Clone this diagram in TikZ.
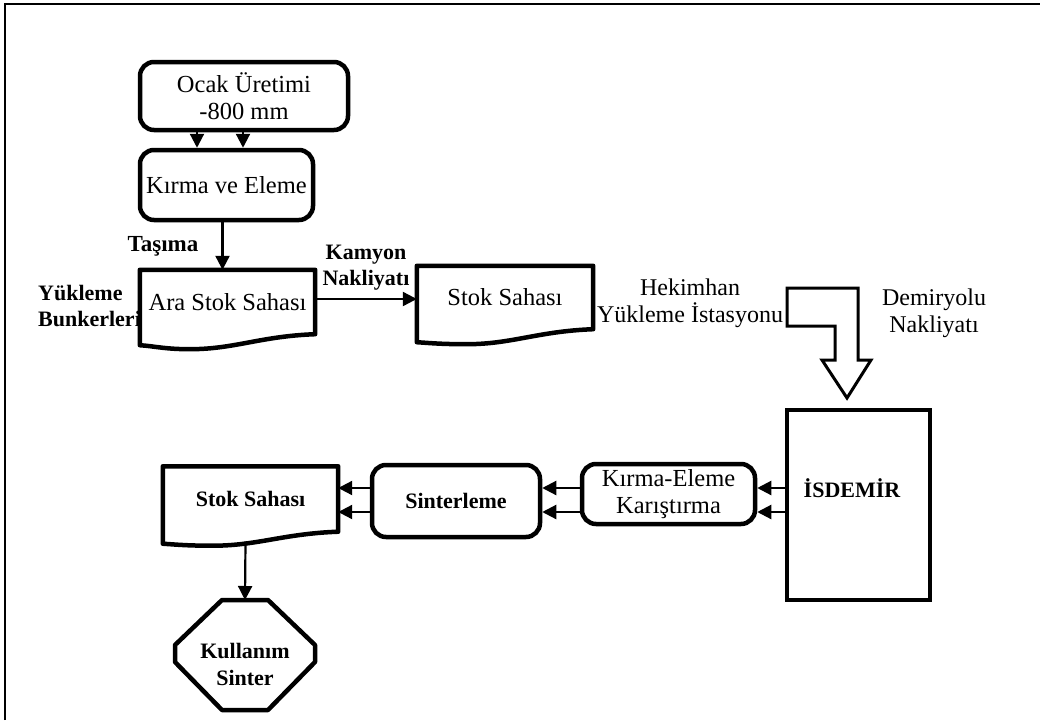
\documentclass[tikz,border=0pt]{standalone}
\usepackage{fontspec}
\setmainfont{Liberation Serif}
\usetikzlibrary{arrows.meta,calc}
\begin{document}
\begin{tikzpicture}[x=1pt,y=-1pt,
  every node/.style={font=\fontsize{24.5}{27}\selectfont, inner sep=0pt, align=center},
  boxline/.style={line width=4.5pt, line join=round},
  rbox/.style={draw, line width=4.5pt, rounded corners=14pt},
  conn/.style={line width=2.2pt, -{Triangle[length=14pt,width=14pt]}},
  lbl/.style={font=\fontsize{24}{27}\selectfont},
  blbl/.style={font=\fontsize{22}{26}\selectfont\bfseries},
  bigarrow/.style={line width=3pt, line join=miter}]
\useasboundingbox (0,0) rectangle (1040,720);
% partial frame
\draw[line width=2.5pt] (5,720) -- (5,4) -- (1040,4);

% nodes
\node[rbox, minimum width=208pt, minimum height=68pt] (ocak) at (244,96) {Ocak Üretimi\\-800 mm};
\node[rbox, minimum width=173pt, minimum height=70pt] (kirma) at (226.5,185) {Kırma ve Eleme};
\node[minimum width=175pt, minimum height=64pt] (ara) at (227.5,302) {Ara Stok Sahası};
\node[minimum width=176pt, minimum height=63pt] (stok1) at (505,297.5) {Stok Sahası};
\node[draw, line width=4.5pt, minimum width=143pt, minimum height=190pt] (isdemir) at (858.5,505) {};
\node[font=\fontsize{22}{26}\selectfont\bfseries] (isdemirtext) at (852,488) {İSDEMİR};
\node[rbox, minimum width=173pt, minimum height=60pt] (ke) at (668.5,494) {Kırma-Eleme\\Karıştırma};
\node[rbox, minimum width=168pt, minimum height=72pt, font=\fontsize{22}{26}\selectfont\bfseries] (sinter) at (456,501) {Sinterleme};
\node[minimum width=175pt, minimum height=65pt, font=\fontsize{22}{26}\selectfont\bfseries] (stok2) at (250.5,499) {Stok Sahası};
\node[font=\fontsize{22}{27}\selectfont\bfseries] (kull) at (245,664) {Kullanım\\Sinter};
\coordinate (kulltop) at (245,600);

% labels
\node[blbl, font=\fontsize{23}{26}\selectfont\bfseries] (tasima) at (163,246) {Taşıma};
\node[blbl, anchor=west, align=left] (bunker) at (38,306) {Yükleme\\Bunkerleri};
\node[blbl] (kamyon) at (366,268) {Kamyon\\Nakliyatı};
\node[lbl] (hekimhan) at (690,303) {Hekimhan\\Yükleme İstasyonu};
\node[lbl] (demiryolu) at (934,313) {Demiryolu\\Nakliyatı};

% document outlines
\draw[boxline] (ara.north west) -- (ara.north east) -- (ara.south east)
  .. controls +(-55,2) and +(45,0) .. ($(ara.south west)+(50,15)$)
  .. controls +(-25,0) and +(15,1) .. ($(ara.south west)+(0,11)$) -- cycle;
\draw[boxline] (stok1.north west) -- (stok1.north east) -- (stok1.south east)
  .. controls +(-55,2) and +(45,0) .. ($(stok1.south west)+(50,15)$)
  .. controls +(-25,0) and +(15,1) .. ($(stok1.south west)+(0,13)$) -- cycle;
\draw[boxline] (stok2.north west) -- (stok2.north east) -- (stok2.south east)
  .. controls +(-55,2) and +(45,0) .. ($(stok2.south west)+(50,14)$)
  .. controls +(-25,0) and +(15,1) .. ($(stok2.south west)+(0,12)$) -- cycle;

% octagon
\draw[boxline] (222,600) -- (268,600) -- (315,645) -- (315,662) -- (268,710)
  -- (222,710) -- (175,662) -- (175,645) -- cycle;

% block arrow
\draw[bigarrow] (787,288) -- (858,288) -- (858,360) -- (871,360) -- (847,398)
  -- (822,360) -- (835,360) -- (835,326) -- (787,326) -- cycle;

% connectors
\coordinate (ya) at (0,488);
\coordinate (yb) at (0,512);
\draw[conn] ([xshift=-47pt]ocak.south) -- ([xshift=-47pt]ocak.south |- kirma.north);
\draw[conn] ([xshift=-1pt]ocak.south) -- ([xshift=-1pt]ocak.south |- kirma.north);
\draw[conn] ([xshift=-4pt]kirma.south) -- ([xshift=-4pt]kirma.south |- ara.north);
\draw[conn] (ara.east |- 0,299) -- (stok1.west |- 0,299);
\draw[conn] (isdemir.west |- ya) -- (ke.east |- ya);
\draw[conn] (isdemir.west |- yb) -- (ke.east |- yb);
\draw[conn] (ke.west |- ya) -- (sinter.east |- ya);
\draw[conn] (ke.west |- yb) -- (sinter.east |- yb);
\draw[conn] (sinter.west |- ya) -- (stok2.east |- ya);
\draw[conn] (sinter.west |- yb) -- (stok2.east |- yb);
\draw[conn] ($(stok2.south)+(-5,10)$) -- (kulltop);
\end{tikzpicture}
\end{document}
